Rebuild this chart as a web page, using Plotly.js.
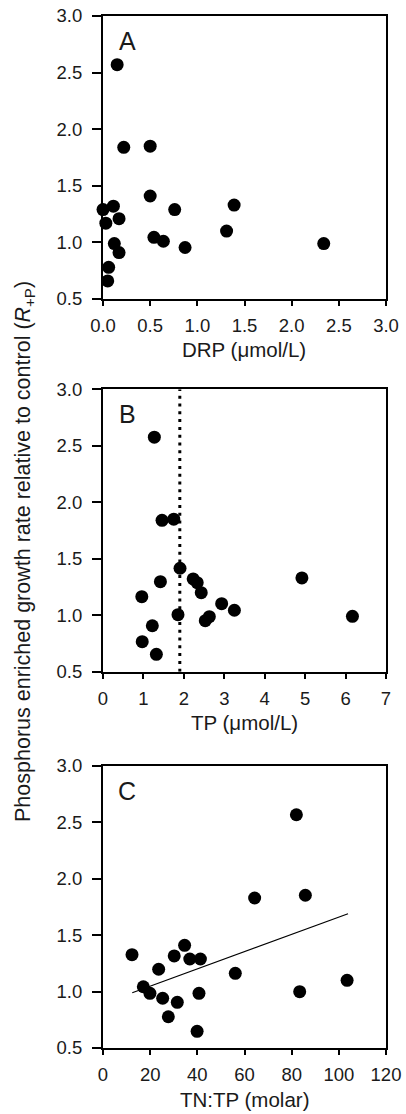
<!DOCTYPE html>
<html>
<head>
<meta charset="utf-8">
<script src="https://cdn.plot.ly/plotly-3.0.1.min.js"></script>
<style>
  html, body { margin: 0; padding: 0; background: #fff; }
  #chart { width: 406px; height: 1114px; }
</style>
</head>
<body>
<div id="chart"></div>
<script>
// ---- Data ----
const panelLetters = ["A", "B", "C"];
const xTitles = ["DRP (\u03bcmol/L)", "TP (\u03bcmol/L)", "TN:TP (molar)"];
const yTitle = "Phosphorus enriched growth rate relative to control (<i>R</i><sub>+P</sub>)";

// Panel A: DRP vs R+P
const drpX = [0.15, 0.22, 0.50, 0.50, 0.00, 0.11, 0.03, 0.17, 0.12, 0.17, 0.06, 0.05, 0.54, 0.64, 0.87, 0.76, 1.31, 1.39, 2.34];
const drpY = [2.57, 1.84, 1.85, 1.41, 1.29, 1.32, 1.17, 1.21, 0.99, 0.91, 0.78, 0.66, 1.045, 1.01, 0.955, 1.29, 1.10, 1.33, 0.99];

// Panel B: TP vs R+P
const tpX = [1.27, 1.46, 1.75, 1.905, 1.42, 2.23, 2.33, 2.43, 0.96, 1.855, 2.935, 3.25, 2.53, 2.63, 4.92, 6.17, 1.22, 0.97, 1.32];
const tpY = [2.576, 1.84, 1.85, 1.416, 1.297, 1.321, 1.288, 1.20, 1.164, 1.005, 1.102, 1.044, 0.952, 0.987, 1.33, 0.99, 0.907, 0.766, 0.654];
const tpThresholdX = [1.9, 1.9];
const tpThresholdY = [0.5, 3.0];

// Panel C: TN:TP vs R+P
const tntpX = [12.3, 17.1, 19.9, 23.6, 25.3, 27.7, 30.2, 31.5, 34.6, 36.8, 41.3, 40.7, 39.9, 56.1, 64.3, 82.0, 85.8, 83.4, 103.5];
const tntpY = [1.327, 1.043, 0.985, 1.198, 0.941, 0.777, 1.316, 0.905, 1.41, 1.289, 1.289, 0.985, 0.648, 1.162, 1.83, 2.568, 1.854, 0.999, 1.10];
const fitX = [12.4, 103.9];
const fitY = [0.99, 1.69];

// Axis ranges / ticks
const xRanges = [[0, 3], [0, 7], [0, 120]];
const xDticks = [0.5, 1, 20];
const xFormats = [".1f", "d", "d"];
const yRange = [0.5, 3.0];
const yDtick = 0.5;

// ---- Layout geometry (pixels) ----
const W = 406, H = 1114;
const plotL = 103, plotR = 386;
const panelTops = [16, 389.3, 766];
const panelBottoms = [299, 671.7, 1048];
const fy = p => 1 - p / H;

const marker = { color: "#000", size: 13, line: { width: 0 } };
const traces = [
  { x: drpX, y: drpY, xaxis: "x", yaxis: "y", type: "scatter", mode: "markers", marker: marker, cliponaxis: false, hoverinfo: "skip" },
  { x: tpThresholdX, y: tpThresholdY, xaxis: "x2", yaxis: "y2", type: "scatter", mode: "lines",
    line: { color: "#000", width: 3, dash: "3px,4.8px" }, hoverinfo: "skip" },
  { x: tpX, y: tpY, xaxis: "x2", yaxis: "y2", type: "scatter", mode: "markers", marker: marker, cliponaxis: false, hoverinfo: "skip" },
  { x: fitX, y: fitY, xaxis: "x3", yaxis: "y3", type: "scatter", mode: "lines",
    line: { color: "#000", width: 1.2 }, hoverinfo: "skip" },
  { x: tntpX, y: tntpY, xaxis: "x3", yaxis: "y3", type: "scatter", mode: "markers", marker: marker, cliponaxis: false, hoverinfo: "skip" }
];

const fontFam = "'Liberation Sans', Arial, Helvetica, sans-serif";
const textCol = "#1a1a1a";
const layout = {
  width: W, height: H,
  margin: { l: 0, r: 0, t: 0, b: 0 },
  paper_bgcolor: "#fff", plot_bgcolor: "#fff",
  showlegend: false,
  font: { family: fontFam, color: textCol, size: 18.5 },
  annotations: []
};

const axBase = {
  showline: true, mirror: true, linecolor: "#000", linewidth: 2,
  ticks: "outside", tickwidth: 2, tickcolor: "#000",
  showgrid: false, zeroline: false,
  tickfont: { family: fontFam, size: 18.5, color: textCol },
  fixedrange: true
};

for (let i = 0; i < 3; i++) {
  const sx = i === 0 ? "" : String(i + 1);
  layout["xaxis" + sx] = Object.assign({}, axBase, {
    domain: [plotL / W, plotR / W],
    range: xRanges[i], dtick: xDticks[i], tick0: 0, tickformat: xFormats[i],
    ticklen: 5, ticklabelstandoff: 4,
    anchor: "y" + sx
  });
  layout["yaxis" + sx] = Object.assign({}, axBase, {
    domain: [fy(panelBottoms[i]), fy(panelTops[i])],
    range: yRange, dtick: yDtick, tick0: 0.5, tickformat: ".1f",
    ticklen: 9, ticklabelstandoff: 6,
    anchor: "x" + sx
  });
  // panel letter
  layout.annotations.push({
    text: panelLetters[i], showarrow: false,
    xref: "x" + sx + " domain", yref: "y" + sx + " domain",
    x: (127 - plotL) / (plotR - plotL),
    y: (panelBottoms[i] - (panelTops[i] + 25)) / (panelBottoms[i] - panelTops[i]),
    xanchor: "center", yanchor: "middle",
    font: { family: fontFam, size: 25, color: textCol }
  });
  // x title
  layout.annotations.push({
    text: xTitles[i], showarrow: false,
    xref: "paper", yref: "paper",
    x: (plotL + plotR) / 2 / W, y: fy(panelBottoms[i] + 51),
    xanchor: "center", yanchor: "middle",
    font: { family: fontFam, size: 20.5, color: textCol }
  });
}

// shared y title
layout.annotations.push({
  text: yTitle, showarrow: false, textangle: -90,
  xref: "paper", yref: "paper",
  x: 25 / W, y: fy(552),
  xanchor: "center", yanchor: "middle",
  font: { family: fontFam, size: 21.5, color: textCol }
});

Plotly.newPlot("chart", traces, layout, { displayModeBar: false, staticPlot: true });
</script>
</body>
</html>
